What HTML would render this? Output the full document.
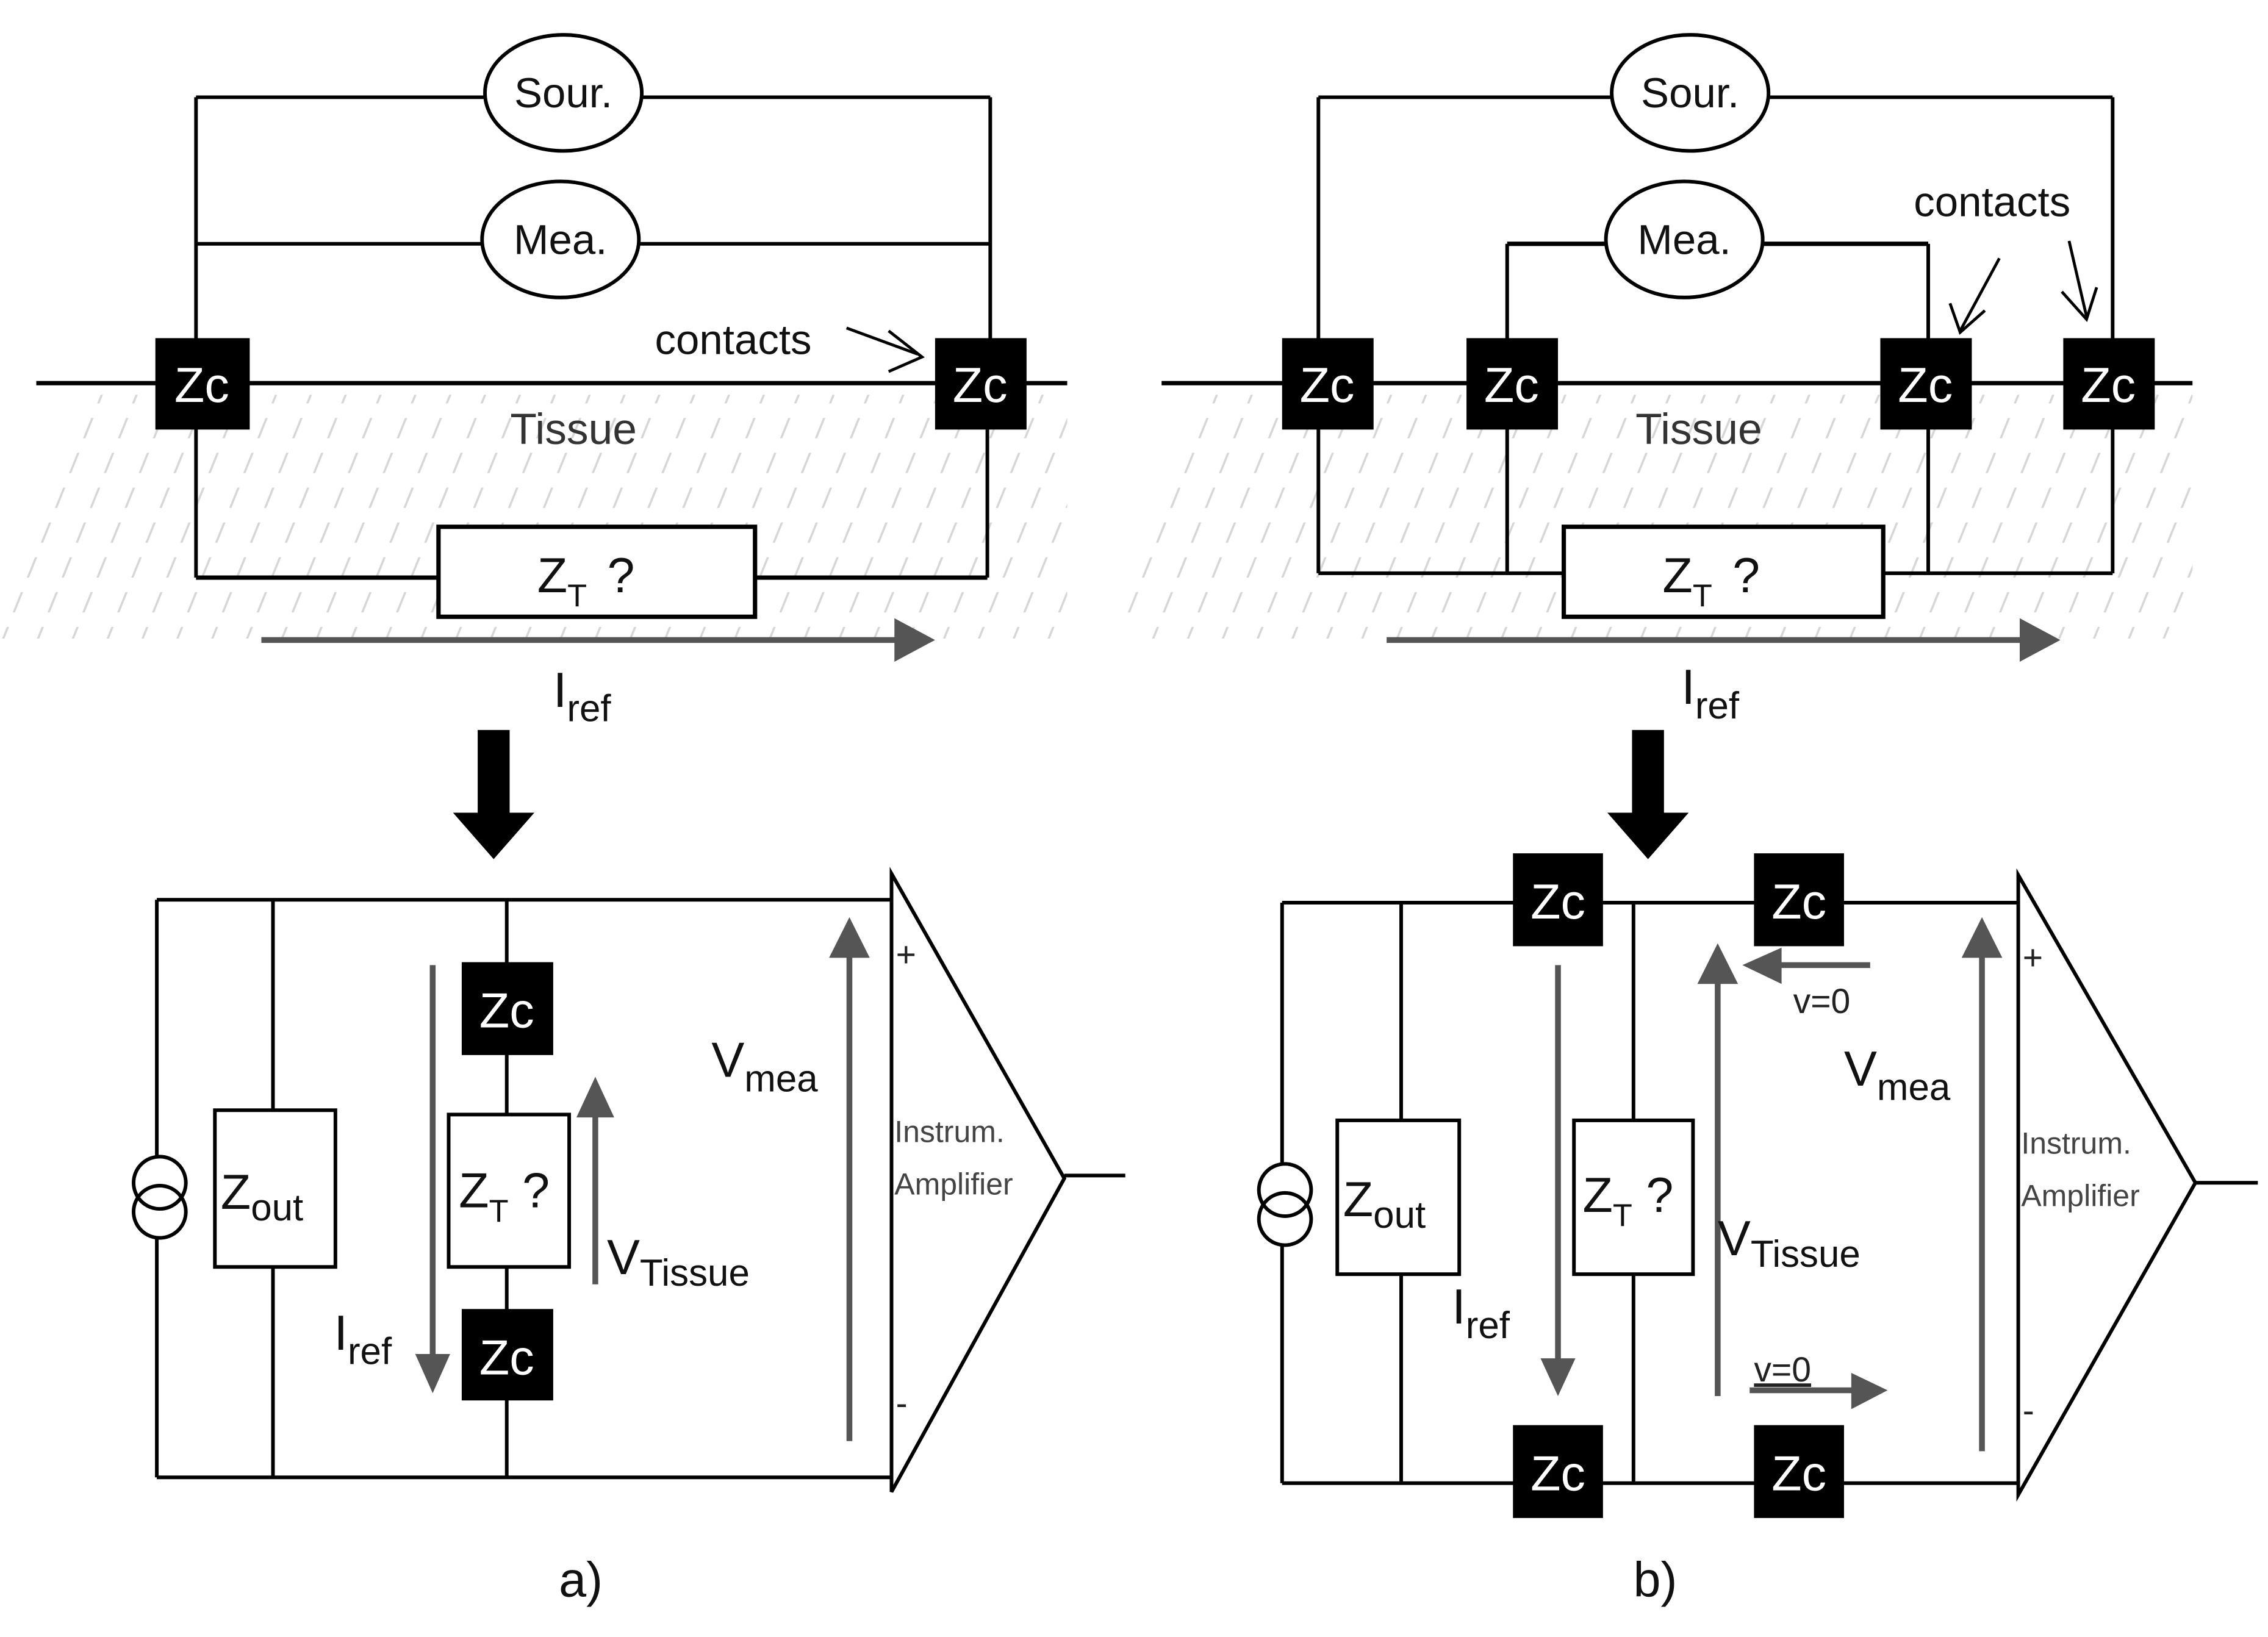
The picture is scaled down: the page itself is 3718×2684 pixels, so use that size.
<!DOCTYPE html>
<html><head><meta charset="utf-8">
<style>
html,body{margin:0;padding:0;background:#fff;}
svg{display:block;}
text{font-family:"Liberation Sans",sans-serif;}
</style></head>
<body>
<svg width="3718" height="2684" viewBox="0 0 1562 1128" preserveAspectRatio="none" xmlns="http://www.w3.org/2000/svg">
<defs>
<pattern id="hatch" patternUnits="userSpaceOnUse" width="24" height="48" patternTransform="skewX(-22)">
<line x1="12" y1="0" x2="12" y2="48" stroke="#d6d6d6" stroke-width="1.6" stroke-dasharray="14 10"/>
</pattern>
</defs>
<rect width="1562" height="1128" fill="#fff"/>

<polygon points="60,272 735,272 735,440 0,440 0,420" fill="url(#hatch)"/>
<polygon points="835,272 1510,272 1510,440 775,440 775,420" fill="url(#hatch)"/>

<g stroke="#000" stroke-width="2.5" fill="none">
<line x1="135" y1="67" x2="334" y2="67"/><line x1="442" y1="67" x2="682" y2="67"/>
<line x1="135" y1="168" x2="332" y2="168"/><line x1="440" y1="168" x2="682" y2="168"/>
<line x1="135" y1="67" x2="135" y2="398"/><line x1="682" y1="67" x2="682" y2="235"/>
<line x1="680" y1="296" x2="680" y2="398"/>
<line x1="25" y1="264" x2="735" y2="264" stroke-width="3"/>
<line x1="135" y1="398" x2="302" y2="398" stroke-width="3"/><line x1="520" y1="398" x2="680" y2="398" stroke-width="3"/>
<rect x="302" y="363" width="218" height="62" stroke-width="3" fill="#fff"/>
<ellipse cx="388" cy="64" rx="54" ry="40" fill="#fff"/>
<ellipse cx="386" cy="165" rx="54" ry="40" fill="#fff"/>
<path d="M583,226 L632,244 M612,228 L635,246 L612,256" stroke-width="2"/>

<line x1="908" y1="67" x2="1109" y2="67"/><line x1="1219" y1="67" x2="1455" y2="67"/>
<line x1="1038" y1="168" x2="1106" y2="168" stroke-width="3"/><line x1="1214" y1="168" x2="1328" y2="168" stroke-width="3"/>
<line x1="908" y1="67" x2="908" y2="395"/><line x1="1455" y1="67" x2="1455" y2="395"/>
<line x1="1038" y1="168" x2="1038" y2="395"/><line x1="1328" y1="168" x2="1328" y2="395"/>
<line x1="800" y1="264" x2="1510" y2="264" stroke-width="3"/>
<line x1="908" y1="395" x2="1077" y2="395" stroke-width="2.5"/><line x1="1297" y1="395" x2="1455" y2="395" stroke-width="2.5"/>
<rect x="1077" y="363" width="220" height="62" stroke-width="3" fill="#fff"/>
<ellipse cx="1164" cy="64" rx="54" ry="40" fill="#fff"/>
<ellipse cx="1160" cy="165" rx="54" ry="40" fill="#fff"/>
<path d="M1377,178 L1350,228 M1343,209 L1350,229 L1367,214" stroke-width="2"/>
<path d="M1425,166 L1437,218 M1420,201 L1437,220 L1444,198" stroke-width="2"/>

<line x1="108" y1="620" x2="614" y2="620"/><line x1="108" y1="1018" x2="614" y2="1018"/>
<line x1="108" y1="620" x2="108" y2="797"/><line x1="108" y1="853" x2="108" y2="1018"/>
<circle cx="110" cy="815" r="18"/><circle cx="110" cy="835" r="18"/>
<line x1="188" y1="620" x2="188" y2="1018"/>
<rect x="148" y="765" width="83" height="108" fill="#fff"/>
<line x1="349" y1="620" x2="349" y2="1018"/>
<rect x="309" y="768" width="83" height="105" fill="#fff"/>
<polygon points="614,602 614,1028 733,812"/>
<line x1="733" y1="810" x2="775" y2="810"/>

<line x1="883" y1="622" x2="1390" y2="622"/><line x1="883" y1="1022" x2="1390" y2="1022"/>
<line x1="883" y1="622" x2="883" y2="802"/><line x1="883" y1="858" x2="883" y2="1022"/>
<circle cx="885" cy="820" r="18"/><circle cx="885" cy="840" r="18"/>
<line x1="965" y1="622" x2="965" y2="1022"/>
<rect x="921" y="772" width="84" height="106" fill="#fff"/>
<line x1="1125" y1="622" x2="1125" y2="1022"/>
<rect x="1084" y="772" width="82" height="106" fill="#fff"/>
<polygon points="1390,603 1390,1030 1512,815"/>
<line x1="1512" y1="815" x2="1555" y2="815"/>
</g>

<g fill="#000">
<rect x="107" y="233" width="65" height="63"/><rect x="644" y="233" width="63" height="63"/>
<rect x="883" y="233" width="63" height="63"/><rect x="1010" y="233" width="63" height="63"/>
<rect x="1295" y="233" width="63" height="63"/><rect x="1421" y="233" width="63" height="63"/>
<rect x="318" y="663" width="63" height="64"/><rect x="318" y="902" width="63" height="63"/>
<rect x="1042" y="588" width="62" height="64"/><rect x="1208" y="588" width="62" height="64"/>
<rect x="1042" y="982" width="62" height="64"/><rect x="1208" y="982" width="62" height="64"/>
</g>
<g fill="#fff" font-size="34" text-anchor="middle">
<text x="139" y="277">Zc</text><text x="675" y="277">Zc</text>
<text x="914" y="277">Zc</text><text x="1041" y="277">Zc</text>
<text x="1326" y="277">Zc</text><text x="1452" y="277">Zc</text>
<text x="349" y="708">Zc</text><text x="349" y="947">Zc</text>
<text x="1073" y="633">Zc</text><text x="1239" y="633">Zc</text>
<text x="1073" y="1027">Zc</text><text x="1239" y="1027">Zc</text>
</g>

<g stroke="#555" stroke-width="4" fill="none">
<line x1="180" y1="441" x2="618" y2="441"/>
<line x1="955" y1="441" x2="1393" y2="441"/>
<line x1="298" y1="665" x2="298" y2="935"/>
<line x1="410" y1="885" x2="410" y2="768"/>
<line x1="585" y1="993" x2="585" y2="658"/>
<line x1="1073" y1="665" x2="1073" y2="938"/>
<line x1="1183" y1="962" x2="1183" y2="676"/>
<line x1="1288" y1="665" x2="1225" y2="665"/>
<line x1="1205" y1="958" x2="1277" y2="958"/>
<line x1="1365" y1="1000" x2="1365" y2="658"/>
</g>
<g fill="#555">
<polygon points="616,426 644,441 616,456"/>
<polygon points="1391,426 1419,441 1391,456"/>
<polygon points="286,933 310,933 298,960"/>
<polygon points="397,770 423,770 410,742"/>
<polygon points="571,660 599,660 585,632"/>
<polygon points="1061,936 1085,936 1073,962"/>
<polygon points="1169,678 1197,678 1183,650"/>
<polygon points="1227,653 1227,678 1200,665"/>
<polygon points="1275,946 1275,971 1300,958"/>
<polygon points="1351,660 1379,660 1365,632"/>
</g>

<g fill="#000">
<rect x="329" y="503" width="22" height="60"/><polygon points="312,560 368,560 340,592"/>
<rect x="1124" y="503" width="22" height="60"/><polygon points="1107,560 1163,560 1135,592"/>
</g>

<g fill="#111" font-size="30" text-anchor="middle">
<text x="388" y="74" font-size="29">Sour.</text>
<text x="386" y="175" font-size="29">Mea.</text>
<text x="1164" y="74" font-size="29">Sour.</text>
<text x="1160" y="175" font-size="29">Mea.</text>
<text x="505" y="244" font-size="29">contacts</text>
<text x="1372" y="149" font-size="29">contacts</text>
<text x="395" y="306" fill="#333">Tissue</text>
<text x="1170" y="306" fill="#333">Tissue</text>
<text x="400" y="1100" font-size="34">a)</text>
<text x="1140" y="1100" font-size="34">b)</text>
</g>
<g fill="#111" font-size="34">
<text x="370" y="408">Z<tspan font-size="22" dy="10">T</tspan><tspan dy="-10" dx="14">?</tspan></text>
<text x="1145" y="408">Z<tspan font-size="22" dy="10">T</tspan><tspan dy="-10" dx="14">?</tspan></text>
<text x="381" y="487">I<tspan font-size="26" dy="10">ref</tspan></text>
<text x="1158" y="485">I<tspan font-size="26" dy="10">ref</tspan></text>
<text x="152" y="833">Z<tspan font-size="26" dy="8">out</tspan></text>
<text x="925" y="838">Z<tspan font-size="26" dy="8">out</tspan></text>
<text x="316" y="832">Z<tspan font-size="22" dy="10">T</tspan><tspan dy="-10"> ?</tspan></text>
<text x="1090" y="835">Z<tspan font-size="22" dy="10">T</tspan><tspan dy="-10"> ?</tspan></text>
<text x="230" y="930">I<tspan font-size="26" dy="10">ref</tspan></text>
<text x="1000" y="912">I<tspan font-size="26" dy="10">ref</tspan></text>
<text x="418" y="878">V<tspan font-size="26" dy="8">Tissue</tspan></text>
<text x="1183" y="865">V<tspan font-size="26" dy="8">Tissue</tspan></text>
<text x="490" y="742">V<tspan font-size="26" dy="10">mea</tspan></text>
<text x="1270" y="748">V<tspan font-size="26" dy="10">mea</tspan></text>
</g>
<g fill="#222" font-size="24">
<text x="1235" y="698">v=0</text>
<text x="1208" y="952" text-decoration="underline">v=0</text>
<text x="617" y="666">+</text>
<text x="617" y="975">-</text>
<text x="1393" y="668">+</text>
<text x="1393" y="980">-</text>
</g>
<g fill="#444" font-size="21">
<text x="616" y="787">Instrum.</text>
<text x="616" y="823">Amplifier</text>
<text x="1392" y="795">Instrum.</text>
<text x="1392" y="831">Amplifier</text>
</g>
</svg>
</body></html>
